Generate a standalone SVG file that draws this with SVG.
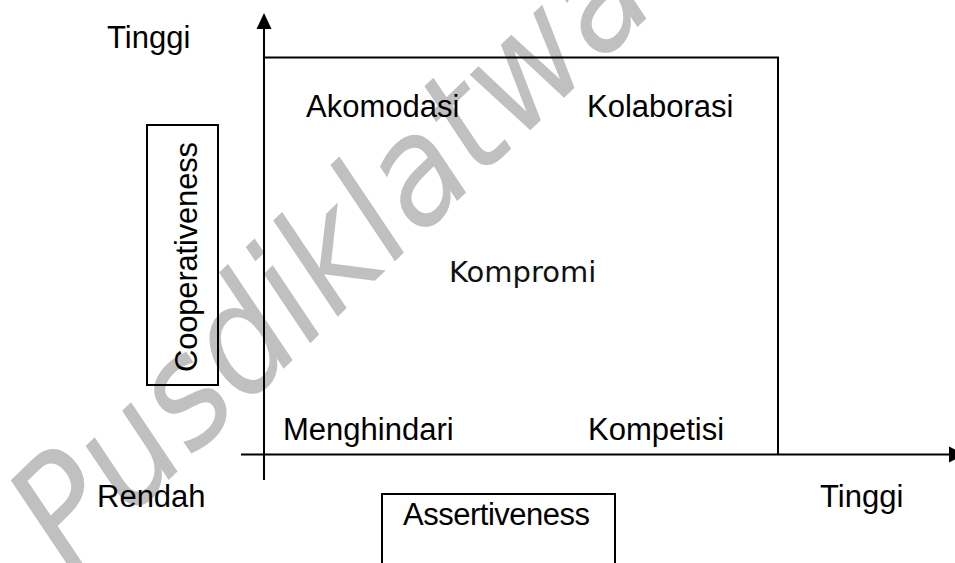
<svg xmlns="http://www.w3.org/2000/svg" width="955" height="563" viewBox="0 0 955 563">
  <style>
    .lbl { font-family: "Liberation Sans", Arial, sans-serif; font-size: 31px; fill: #000; }
    .mid { font-family: "DejaVu Sans", Verdana, sans-serif; font-size: 29px; fill: #111; }
    .ln { stroke: #000; stroke-width: 2; fill: none; }
    .box { stroke: #000; stroke-width: 2; fill: none; }
    .wm { font-family: "DejaVu Sans", sans-serif; font-style: oblique; font-size: 150px; fill: #c0c0c0; }
  </style>
  <rect width="955" height="563" fill="#fff"/>

  <!-- background watermark -->
  <g id="watermark">
    <text class="wm" transform="translate(70,575) rotate(-44)" textLength="820" lengthAdjust="spacingAndGlyphs">Pusdiklatwa</text>
  </g>

  <!-- axes and quadrant frame -->
  <g id="connectors">
    <line class="ln" x1="264" y1="480" x2="264" y2="28"/>
    <polygon points="264,13 256.5,29 271.5,29" fill="#000"/>
    <line class="ln" x1="241" y1="454.5" x2="950" y2="454.5"/>
    <polygon points="965,454.5 949,446.5 949,462.5" fill="#000"/>
    <polyline class="ln" points="264,57.5 778,57.5 778,454.5"/>
  </g>

  <g id="axis-labels">
    <text class="lbl" x="107" y="48">Tinggi</text>
    <text class="lbl" x="97" y="507">Rendah</text>
    <text class="lbl" x="820" y="507">Tinggi</text>
  </g>

  <g id="cooperativeness">
    <rect class="box" x="147" y="125" width="71" height="260"/>
    <text class="lbl" transform="translate(197,372) rotate(-90)" textLength="230">Cooperativeness</text>
  </g>

  <g id="assertiveness">
    <rect class="box" x="382" y="494" width="233" height="90"/>
    <text class="lbl" x="403" y="525" textLength="187">Assertiveness</text>
  </g>

  <g id="akomodasi"><text class="lbl" x="306" y="117">Akomodasi</text></g>
  <g id="kolaborasi"><text class="lbl" x="587" y="117">Kolaborasi</text></g>
  <g id="kompromi"><text class="mid" x="449" y="282">Kompromi</text></g>
  <g id="menghindari"><text class="lbl" x="283" y="440">Menghindari</text></g>
  <g id="kompetisi"><text class="lbl" x="588" y="440">Kompetisi</text></g>
</svg>
